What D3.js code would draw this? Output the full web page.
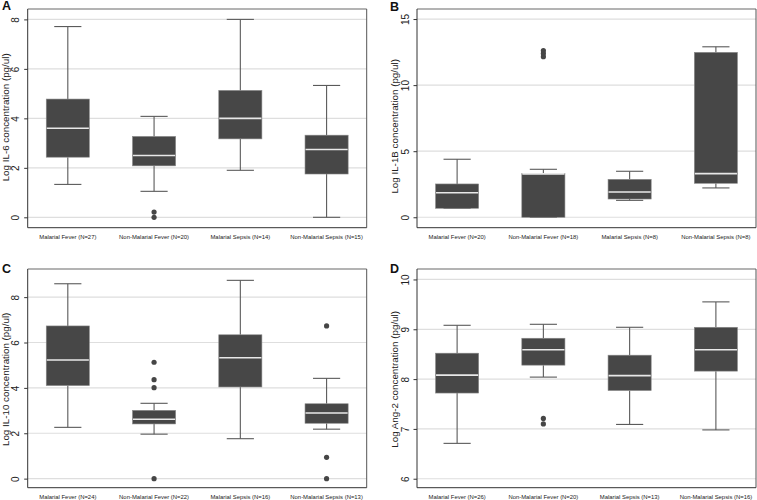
<!DOCTYPE html>
<html>
<head>
<meta charset="utf-8">
<script src="https://cdn.jsdelivr.net/npm/d3@7"></script>
<style>
  body { margin: 0; background: #fff; }
  svg { display: block; }
  text { font-family: "Liberation Sans", Arial, sans-serif; }
</style>
</head>
<body>
<svg id="chart" width="757" height="500"></svg>
<script>
// ---- Data ----
// stats: [lower whisker, Q1, median, Q3, upper whisker]
const categoriesA = ["Malarial Fever (N=27)", "Non-Malarial Fever (N=20)", "Malarial Sepsis (N=14)", "Non-Malarial Sepsis (N=15)"];
const statsA = [[1.33, 2.43, 3.6, 4.78, 7.71], [1.05, 2.08, 2.5, 3.27, 4.08], [1.9, 3.17, 4.0, 5.13, 8.0], [0.0, 1.75, 2.74, 3.32, 5.33]];
const outliersA = [[], [0.21, 0.0], [], []];
const ticksA = [0, 2, 4, 6, 8];

const categoriesB = ["Malarial Fever (N=20)", "Non-Malarial Fever (N=18)", "Malarial Sepsis (N=8)", "Non-Malarial Sepsis (N=8)"];
const statsB = [[0.68, 0.68, 1.86, 2.52, 4.39], [0.0, 0.0, 3.28, 3.3, 3.63], [1.28, 1.38, 1.91, 2.87, 3.48], [2.22, 2.57, 3.3, 12.48, 12.9]];
const outliersB = [[], [12.15, 12.4, 12.62], [], []];
const ticksB = [0, 5, 10, 15];

const categoriesC = ["Malarial Fever (N=24)", "Non-Malarial Fever (N=22)", "Malarial Sepsis (N=16)", "Non-Malarial Sepsis (N=13)"];
const statsC = [[2.26, 4.1, 5.23, 6.73, 8.59], [1.96, 2.41, 2.62, 3.01, 3.32], [1.76, 4.04, 5.33, 6.34, 8.74], [2.18, 2.44, 2.89, 3.30, 4.42]];
const outliersC = [[], [5.13, 4.36, 4.01, 0.0], [], [6.73, 0.94, 0.0]];
const ticksC = [0, 2, 4, 6, 8];

const categoriesD = ["Malarial Fever (N=26)", "Non-Malarial Fever (N=20)", "Malarial Sepsis (N=13)", "Non-Malarial Sepsis (N=16)"];
const statsD = [[6.71, 7.72, 8.08, 8.52, 9.08], [8.04, 8.28, 8.59, 8.82, 9.10], [7.09, 7.77, 8.07, 8.48, 9.04], [6.98, 8.16, 8.59, 9.04, 9.55]];
const outliersD = [[], [7.21, 7.10], [], []];
const ticksD = [6, 7, 8, 9, 10];

const panels = [
  { letter: "A", title: "Log IL-6 concentration (pg/ul)", cats: categoriesA, stats: statsA, outs: outliersA, ticks: ticksA,
    domain: [-0.42, 8.42], box: { l: 27.7, t: 9, r: 366.7, b: 227.7 }, letterPos: [2, 10], titleShift: -1 },
  { letter: "B", title: "Log IL-1B concentration (pg/ul)", cats: categoriesB, stats: statsB, outs: outliersB, ticks: ticksB,
    domain: [-0.79, 15.76], box: { l: 417, t: 9, r: 756, b: 227.7 }, letterPos: [390, 11], titleShift: 8 },
  { letter: "C", title: "Log IL-10 concentration (pg/ul)", cats: categoriesC, stats: statsC, outs: outliersC, ticks: ticksC,
    domain: [-0.40, 9.24], box: { l: 27.7, t: 269, r: 366.7, b: 487.7 }, letterPos: [2, 273], titleShift: 1 },
  { letter: "D", title: "Log Ang-2 concentration (pg/ul)", cats: categoriesD, stats: statsD, outs: outliersD, ticks: ticksD,
    domain: [5.82, 10.21], box: { l: 417, t: 269, r: 756, b: 487.7 }, letterPos: [390, 273], titleShift: 1 }
];

const svg = d3.select("#chart");

panels.forEach(p => {
  const g = svg.append("g");
  const { l, t, r, b } = p.box;
  const x = d3.scaleBand().domain(p.cats).range([l, r]).paddingInner(0.5).paddingOuter(0.215);
  const y = d3.scaleLinear().domain(p.domain).range([b, t]);
  const bw = x.bandwidth();
  const capW = bw * 0.63;

  // gridlines
  g.selectAll(".grid").data(p.ticks).join("line")
    .attr("x1", l).attr("x2", r)
    .attr("y1", d => y(d)).attr("y2", d => y(d))
    .attr("stroke", "#dedede").attr("stroke-width", 1.2);

  // frame: top and right lighter
  g.append("line").attr("x1", l).attr("x2", r).attr("y1", t).attr("y2", t)
    .attr("stroke", "#9a9a9a").attr("stroke-width", 1.6);
  g.append("line").attr("x1", r).attr("x2", r).attr("y1", t).attr("y2", b)
    .attr("stroke", "#555").attr("stroke-width", 1);

  // boxes
  p.cats.forEach((c, i) => {
    const s = p.stats[i];
    const cx = x(c) + bw / 2;
    const bg = g.append("g");
    // whiskers
    bg.append("line").attr("x1", cx).attr("x2", cx).attr("y1", y(s[4])).attr("y2", y(s[3]))
      .attr("stroke", "#5a5a5a").attr("stroke-width", 1.1);
    bg.append("line").attr("x1", cx).attr("x2", cx).attr("y1", y(s[1])).attr("y2", y(s[0]))
      .attr("stroke", "#5a5a5a").attr("stroke-width", 1.1);
    // caps
    [s[0], s[4]].forEach(v => {
      bg.append("line").attr("x1", cx - capW / 2).attr("x2", cx + capW / 2).attr("y1", y(v)).attr("y2", y(v))
        .attr("stroke", "#5a5a5a").attr("stroke-width", 1.1);
    });
    // box
    bg.append("rect").attr("x", x(c)).attr("width", bw)
      .attr("y", y(s[3])).attr("height", y(s[1]) - y(s[3]))
      .attr("fill", "#474747").attr("stroke", "#8a8a8a").attr("stroke-width", 0.6);
    // median
    bg.append("line").attr("x1", x(c) + 0.5).attr("x2", x(c) + bw - 0.5).attr("y1", y(s[2])).attr("y2", y(s[2]))
      .attr("stroke", "#e8e8e8").attr("stroke-width", 1.6);
    // outliers
    bg.selectAll("circle").data(p.outs[i]).join("circle")
      .attr("cx", cx).attr("cy", d => y(d)).attr("r", 2.6).attr("fill", "#464646");
  });

  // y axis
  const yAxis = g.append("g").attr("transform", `translate(${l},0)`)
    .call(d3.axisLeft(y).tickValues(p.ticks).tickSize(3.5).tickPadding(4).tickFormat(d3.format("d")));
  yAxis.select(".domain").attr("stroke", "#333").attr("stroke-width", 1).attr("d", `M0,${t}V${b}`);
  yAxis.selectAll(".tick line").attr("stroke", "#333");
  yAxis.selectAll(".tick text")
    .attr("font-size", 10).attr("fill", "#222")
    .attr("text-anchor", "middle").attr("x", null).attr("dy", null)
    .attr("transform", "translate(-11,0) rotate(-90)")
    .attr("y", 0).attr("dominant-baseline", "middle");

  // x axis baseline (no ticks)
  const xAxis = g.append("g").attr("transform", `translate(0,${b})`)
    .call(d3.axisBottom(x).tickSize(0).tickPadding(7));
  xAxis.select(".domain").attr("stroke", "#333").attr("stroke-width", 1).attr("d", `M${l},0H${r}`);
  xAxis.selectAll(".tick text").attr("font-size", 5.9).attr("fill", "#222");

  // y title (baseline placed so glyphs sit left of the tick labels)
  g.append("text")
    .attr("transform", `translate(${l - 19},${(t + b) / 2 + p.titleShift}) rotate(-90)`)
    .attr("text-anchor", "middle")
    .attr("font-size", 9.8).attr("fill", "#222")
    .text(p.title);

  // panel letter
  g.append("text").attr("x", p.letterPos[0]).attr("y", p.letterPos[1])
    .attr("font-size", 12.5).attr("font-weight", "bold").attr("fill", "#111")
    .text(p.letter);
});
</script>
</body>
</html>
